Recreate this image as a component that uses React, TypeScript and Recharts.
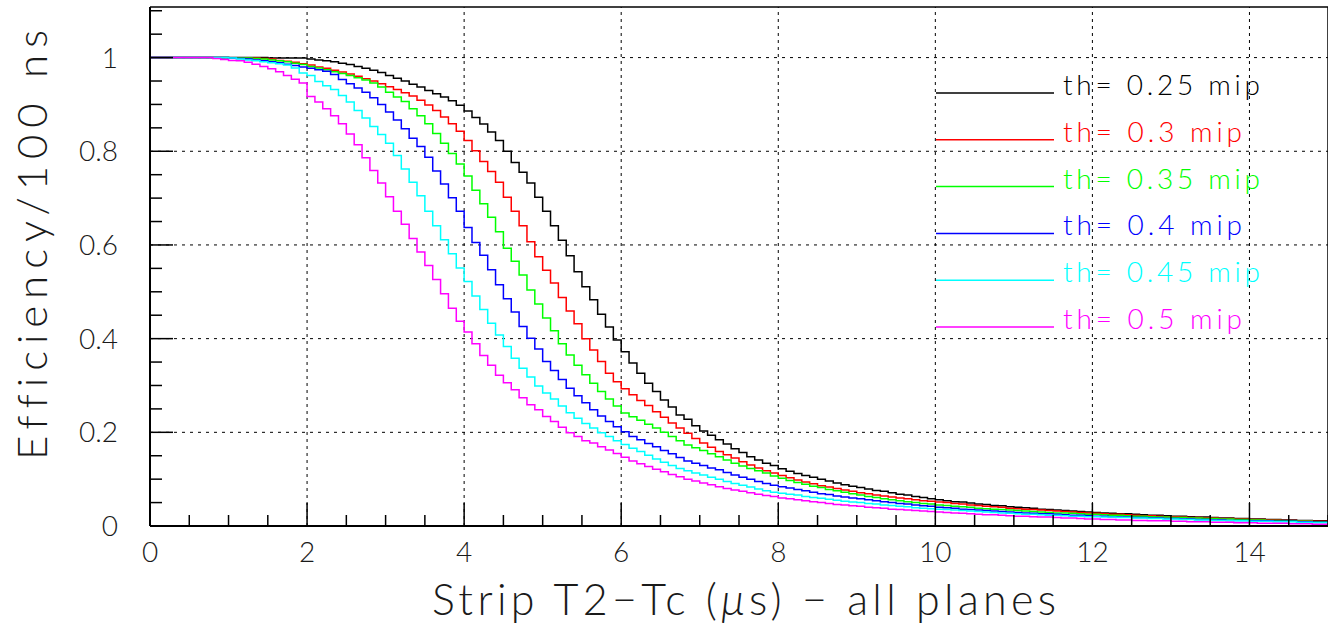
import React from 'react';
import { LineChart, Line, XAxis, YAxis, ReferenceLine, Legend, Label } from 'recharts';

// ---- data (bin contents, 100 ns bins from 0 to 15 us) ----
const TH_025 = [
  1, 1, 1, 1, 1, 1, 1, 1, 1, 1, 1, 1, 1, 1, 1, 0.999, 0.999, 0.999, 0.999, 0.999,
  0.997, 0.995, 0.993, 0.991, 0.988, 0.985, 0.981, 0.977, 0.973, 0.968,
  0.962, 0.956, 0.950, 0.943, 0.937, 0.930, 0.923, 0.916, 0.908, 0.898,
  0.886, 0.872, 0.858, 0.841, 0.823, 0.800, 0.776, 0.755, 0.732, 0.702,
  0.672, 0.641, 0.610, 0.577, 0.543, 0.511, 0.483, 0.452, 0.425, 0.397,
  0.372, 0.348, 0.326, 0.305, 0.287, 0.269, 0.254, 0.237, 0.228, 0.214,
  0.203, 0.194, 0.184, 0.175, 0.165, 0.157, 0.148, 0.141, 0.134, 0.129,
  0.122, 0.117, 0.112, 0.108, 0.104, 0.100, 0.096, 0.092, 0.088, 0.085,
  0.082, 0.079, 0.076, 0.074, 0.071, 0.068, 0.066, 0.063, 0.061, 0.058,
  0.056, 0.054, 0.052, 0.051, 0.049, 0.047, 0.046, 0.044, 0.043, 0.041,
  0.040, 0.039, 0.038, 0.036, 0.035, 0.034, 0.033, 0.032, 0.031, 0.030,
  0.029, 0.028, 0.027, 0.026, 0.026, 0.025, 0.024, 0.023, 0.023, 0.022,
  0.021, 0.021, 0.020, 0.019, 0.019, 0.018, 0.017, 0.017, 0.016, 0.016,
  0.015, 0.015, 0.014, 0.014, 0.013, 0.013, 0.012, 0.012, 0.011, 0.011,
];
const TH_030 = [
  1, 1, 1, 1, 1, 1, 1, 1, 1, 1,
  0.999, 0.999, 0.999, 0.999, 0.998, 0.997, 0.994, 0.992, 0.990, 0.987,
  0.984, 0.980, 0.977, 0.973, 0.969, 0.965, 0.960, 0.955, 0.950, 0.944,
  0.938, 0.932, 0.925, 0.918, 0.909, 0.899, 0.887, 0.873, 0.859, 0.843,
  0.823, 0.801, 0.778, 0.757, 0.734, 0.702, 0.672, 0.641, 0.607, 0.575,
  0.546, 0.519, 0.488, 0.459, 0.432, 0.400, 0.376, 0.351, 0.326, 0.308,
  0.293, 0.280, 0.268, 0.257, 0.244, 0.232, 0.220, 0.209, 0.198, 0.187,
  0.177, 0.168, 0.159, 0.152, 0.145, 0.137, 0.130, 0.124, 0.118, 0.113,
  0.108, 0.103, 0.098, 0.094, 0.090, 0.086, 0.083, 0.080, 0.077, 0.074,
  0.071, 0.069, 0.066, 0.064, 0.062, 0.060, 0.058, 0.056, 0.054, 0.053,
  0.051, 0.050, 0.048, 0.047, 0.045, 0.044, 0.042, 0.041, 0.040, 0.038,
  0.037, 0.036, 0.035, 0.034, 0.033, 0.032, 0.031, 0.030, 0.029, 0.028,
  0.027, 0.026, 0.025, 0.025, 0.024, 0.023, 0.022, 0.022, 0.021, 0.020,
  0.020, 0.019, 0.018, 0.018, 0.017, 0.017, 0.016, 0.016, 0.015, 0.015,
  0.014, 0.014, 0.013, 0.013, 0.012, 0.012, 0.011, 0.011, 0.010, 0.010,
];
const TH_035 = [
  1, 1, 1, 1, 1, 1, 1, 1, 1, 1,
  0.999, 0.999, 0.999, 0.998, 0.997, 0.995, 0.993, 0.991, 0.988, 0.985,
  0.981, 0.978, 0.974, 0.970, 0.966, 0.962, 0.957, 0.952, 0.946, 0.937,
  0.926, 0.916, 0.906, 0.891, 0.876, 0.859, 0.838, 0.817, 0.795, 0.773,
  0.747, 0.717, 0.688, 0.659, 0.628, 0.593, 0.565, 0.536, 0.504, 0.474,
  0.444, 0.417, 0.389, 0.365, 0.343, 0.323, 0.305, 0.287, 0.271, 0.256,
  0.241, 0.233, 0.226, 0.217, 0.209, 0.200, 0.191, 0.182, 0.173, 0.167,
  0.161, 0.154, 0.148, 0.141, 0.134, 0.128, 0.123, 0.118, 0.113, 0.107,
  0.102, 0.097, 0.093, 0.089, 0.085, 0.082, 0.078, 0.075, 0.072, 0.069,
  0.066, 0.063, 0.061, 0.058, 0.056, 0.054, 0.052, 0.050, 0.048, 0.047,
  0.045, 0.044, 0.042, 0.041, 0.040, 0.038, 0.037, 0.036, 0.035, 0.034,
  0.033, 0.032, 0.031, 0.030, 0.029, 0.028, 0.028, 0.027, 0.026, 0.025,
  0.025, 0.024, 0.023, 0.023, 0.022, 0.021, 0.021, 0.020, 0.019, 0.019,
  0.018, 0.018, 0.017, 0.017, 0.016, 0.016, 0.015, 0.015, 0.014, 0.014,
  0.013, 0.013, 0.012, 0.012, 0.011, 0.011, 0.010, 0.010, 0.009, 0.009,
];
const TH_040 = [
  1, 1, 1, 1, 1, 1, 1, 1, 1, 1,
  0.999, 0.998, 0.997, 0.995, 0.993, 0.991, 0.989, 0.986, 0.983, 0.980,
  0.977, 0.974, 0.971, 0.964, 0.953, 0.944, 0.935, 0.926, 0.914, 0.900,
  0.884, 0.867, 0.848, 0.828, 0.810, 0.787, 0.758, 0.730, 0.701, 0.672,
  0.637, 0.605, 0.578, 0.547, 0.515, 0.485, 0.457, 0.426, 0.401, 0.378,
  0.351, 0.332, 0.313, 0.294, 0.278, 0.263, 0.248, 0.235, 0.223, 0.212,
  0.201, 0.191, 0.184, 0.176, 0.169, 0.161, 0.154, 0.146, 0.139, 0.134,
  0.129, 0.124, 0.120, 0.114, 0.109, 0.104, 0.100, 0.095, 0.091, 0.087,
  0.084, 0.081, 0.078, 0.075, 0.072, 0.069, 0.067, 0.064, 0.062, 0.060,
  0.058, 0.056, 0.054, 0.052, 0.050, 0.048, 0.047, 0.045, 0.043, 0.042,
  0.040, 0.039, 0.038, 0.036, 0.035, 0.034, 0.033, 0.032, 0.031, 0.030,
  0.029, 0.028, 0.027, 0.026, 0.026, 0.025, 0.024, 0.023, 0.023, 0.022,
  0.021, 0.021, 0.020, 0.019, 0.019, 0.018, 0.018, 0.017, 0.017, 0.016,
  0.016, 0.015, 0.015, 0.014, 0.014, 0.013, 0.013, 0.012, 0.012, 0.012,
  0.011, 0.011, 0.011, 0.010, 0.010, 0.010, 0.009, 0.009, 0.008, 0.008,
];
const TH_045 = [
  1, 1, 1, 1, 1, 1, 1, 1, 1, 1,
  0.999, 0.997, 0.995, 0.993, 0.991, 0.989, 0.987, 0.984, 0.978, 0.967,
  0.962, 0.949, 0.940, 0.932, 0.919, 0.905, 0.887, 0.871, 0.853, 0.836,
  0.817, 0.791, 0.762, 0.734, 0.705, 0.672, 0.641, 0.611, 0.581, 0.551,
  0.522, 0.491, 0.462, 0.433, 0.408, 0.383, 0.358, 0.337, 0.318, 0.299,
  0.284, 0.271, 0.256, 0.242, 0.230, 0.219, 0.209, 0.199, 0.191, 0.182,
  0.174, 0.166, 0.159, 0.151, 0.143, 0.136, 0.129, 0.123, 0.118, 0.113,
  0.109, 0.104, 0.100, 0.095, 0.091, 0.087, 0.083, 0.079, 0.075, 0.072,
  0.070, 0.068, 0.066, 0.063, 0.061, 0.059, 0.057, 0.055, 0.053, 0.051,
  0.050, 0.048, 0.047, 0.045, 0.044, 0.042, 0.041, 0.039, 0.038, 0.037,
  0.036, 0.035, 0.034, 0.033, 0.032, 0.031, 0.030, 0.029, 0.028, 0.027,
  0.026, 0.025, 0.025, 0.024, 0.023, 0.023, 0.022, 0.021, 0.021, 0.020,
  0.020, 0.019, 0.019, 0.018, 0.018, 0.017, 0.017, 0.016, 0.016, 0.015,
  0.015, 0.014, 0.014, 0.013, 0.013, 0.012, 0.012, 0.012, 0.011, 0.011,
  0.010, 0.010, 0.010, 0.009, 0.009, 0.009, 0.008, 0.008, 0.007, 0.007,
];
const TH_050 = [
  1, 1, 1, 1, 1, 1, 1, 1, 0.998, 0.996,
  0.994, 0.993, 0.990, 0.986, 0.981, 0.976, 0.970, 0.962, 0.954, 0.946,
  0.917, 0.905, 0.891, 0.876, 0.859, 0.837, 0.814, 0.786, 0.759, 0.732,
  0.703, 0.672, 0.644, 0.614, 0.585, 0.556, 0.526, 0.496, 0.465, 0.437,
  0.414, 0.389, 0.364, 0.343, 0.322, 0.306, 0.291, 0.274, 0.259, 0.248,
  0.234, 0.223, 0.211, 0.199, 0.191, 0.182, 0.177, 0.169, 0.162, 0.155,
  0.147, 0.139, 0.133, 0.127, 0.121, 0.116, 0.110, 0.105, 0.100, 0.096,
  0.092, 0.088, 0.084, 0.080, 0.077, 0.074, 0.071, 0.068, 0.065, 0.063,
  0.060, 0.058, 0.056, 0.054, 0.052, 0.050, 0.048, 0.046, 0.045, 0.043,
  0.042, 0.040, 0.039, 0.038, 0.036, 0.035, 0.034, 0.033, 0.032, 0.031,
  0.030, 0.029, 0.028, 0.027, 0.026, 0.025, 0.024, 0.024, 0.023, 0.022,
  0.021, 0.021, 0.020, 0.019, 0.019, 0.018, 0.017, 0.017, 0.016, 0.015,
  0.015, 0.014, 0.014, 0.013, 0.013, 0.012, 0.012, 0.011, 0.011, 0.011,
  0.010, 0.010, 0.009, 0.009, 0.009, 0.008, 0.008, 0.008, 0.007, 0.007,
  0.007, 0.006, 0.006, 0.006, 0.006, 0.005, 0.005, 0.005, 0.004, 0.004,
];

const SERIES_KEYS = ['t025', 't030', 't035', 't040', 't045', 't050'];
const SERIES_NAMES = ['th= 0.25 mip', 'th= 0.3 mip', 'th= 0.35 mip', 'th= 0.4 mip', 'th= 0.45 mip', 'th= 0.5 mip'];
const SERIES_COLORS = ['#000000', '#ff0000', '#00ff00', '#0000ff', '#00ffff', '#ff00ff'];
const SERIES_VALUES = [TH_025, TH_030, TH_035, TH_040, TH_045, TH_050];

const BIN_WIDTH = 0.1;
const X_MAX = 15;
const Y_MAX = 1.108;
const X_TICKS = [0, 0.5, 1, 1.5, 2, 2.5, 3, 3.5, 4, 4.5, 5, 5.5, 6, 6.5, 7, 7.5, 8, 8.5, 9, 9.5, 10, 10.5, 11, 11.5, 12, 12.5, 13, 13.5, 14, 14.5, 15];
const Y_TICKS = [0, 0.05, 0.1, 0.15, 0.2, 0.25, 0.3, 0.35, 0.4, 0.45, 0.5, 0.55, 0.6, 0.65, 0.7, 0.75, 0.8, 0.85, 0.9, 0.95, 1, 1.05, 1.1];
const X_LABELS = [0, 2, 4, 6, 8, 10, 12, 14];
const Y_LABELS = [0, 0.2, 0.4, 0.6, 0.8, 1];
const GRID_X = [2, 4, 6, 8, 10, 12, 14];
const GRID_Y = [0.2, 0.4, 0.6, 0.8, 1];

const X_TITLE = 'Strip T2\u2212Tc (';
const X_TITLE_MU = '\u03bc';
const X_TITLE_END = 's) \u2212 all planes';
const Y_TITLE = 'Efficiency/100 ns';

// table for the library: one row per bin low edge, plus the closing edge
const rows = (() => {
  const out: any[] = [];
  const n = TH_025.length;
  for (let i = 0; i <= n; i++) {
    const j = Math.min(i, n - 1);
    const r: any = { x: Math.round(i * BIN_WIDTH * 10) / 10 };
    SERIES_KEYS.forEach((k, s) => { r[k] = SERIES_VALUES[s][j]; });
    out.push(r);
  }
  return out;
})();

const FONT = "Lato, 'Liberation Sans', sans-serif";
const TXT = '#1a1a1a';
const NOLIG = { fontVariantLigatures: 'none', fontFeatureSettings: '"liga" 0, "clig" 0' } as any;

const isIn = (v: number, list: number[]) => list.some((l) => Math.abs(l - v) < 1e-6);

const XTick = (props: any) => {
  const { x, y, payload } = props;
  const v = payload.value;
  const major = isIn(v, X_LABELS);
  const len = major ? 23 : 11;
  return (
    <g>
      <line x1={x} y1={y} x2={x} y2={y - len} stroke="#000" strokeWidth={1.5} />
      {major && (
        <text x={x} y={y + 36} textAnchor="middle" fontFamily={FONT} fontWeight={300} fontSize={28} fill={TXT}>
          {String(v)}
        </text>
      )}
    </g>
  );
};

const YTick = (props: any) => {
  const { x, y, payload } = props;
  const v = payload.value;
  const major = isIn(v, Y_LABELS);
  const len = major ? 23 : 12;
  const label = v === 0 ? '0' : v === 1 ? '1' : v.toFixed(1);
  return (
    <g>
      <line x1={x} y1={y} x2={x + len} y2={y} stroke="#000" strokeWidth={1.5} />
      {major && (
        <text x={x - 32} y={y + 10} textAnchor="end" fontFamily={FONT} fontWeight={300} fontSize={28} fill={TXT}>
          {label}
        </text>
      )}
    </g>
  );
};

const XTitle = () => (
  <text x={744} y={615} textAnchor="middle" fontFamily={FONT} fontWeight={300} fontSize={43} fill={TXT}
    textLength={624} lengthAdjust="spacing" style={NOLIG}>
    {X_TITLE}
    <tspan fontStyle="italic">{X_TITLE_MU}</tspan>
    {X_TITLE_END}
  </text>
);

const YTitle = () => (
  <text x={0} y={0} transform="translate(47,245) rotate(-90)" textAnchor="middle" fontFamily={FONT} fontWeight={300}
    fontSize={42} fill={TXT} textLength={430} lengthAdjust="spacing" style={NOLIG}>
    {Y_TITLE}
  </text>
);

const LegendBox = () => (
  <svg width={1328} height={625} style={{ position: 'absolute', left: 0, top: 0, pointerEvents: 'none' }}>
    {SERIES_NAMES.map((name, i) => {
      const ly = 93 + i * 46.8;
      return (
        <g key={name}>
          <line x1={936} y1={ly} x2={1054} y2={ly} stroke={SERIES_COLORS[i]} strokeWidth={1.5} />
          <text x={1063} y={ly + 2} fontFamily={FONT} fontWeight={300} fontSize={28} fill={SERIES_COLORS[i]}
            textLength={name.length === 12 ? 197 : 179} lengthAdjust="spacing" style={NOLIG}>
            {name}
          </text>
        </g>
      );
    })}
  </svg>
);

export default function App() {
  return (
    <div style={{ width: 1328, height: 625, position: 'relative', background: '#fff' }}>
      <style>{'body{margin:0;background:#fff;}'}</style>
      <LineChart width={1328} height={625} data={rows} margin={{ top: 7, right: 0, bottom: 0, left: 0 }}>
        {GRID_X.map((v) => (
          <ReferenceLine key={'gx' + v} x={v} stroke="#000" strokeWidth={1} strokeDasharray="3 4" />
        ))}
        {GRID_Y.map((v) => (
          <ReferenceLine key={'gy' + v} y={v} stroke="#000" strokeWidth={1} strokeDasharray="3 5" />
        ))}
        <ReferenceLine y={Y_MAX} stroke="#000" strokeWidth={1.5} />
        <ReferenceLine x={X_MAX} stroke="#000" strokeWidth={1.5} />
        <XAxis
          type="number"
          dataKey="x"
          domain={[0, X_MAX]}
          ticks={X_TICKS}
          interval={0}
          tickSize={0}
          tickMargin={0}
          tickLine={false}
          tick={<XTick />}
          height={99}
          axisLine={{ stroke: '#000', strokeWidth: 2 }}
          allowDataOverflow
        >
          <Label content={<XTitle />} />
        </XAxis>
        <YAxis
          type="number"
          domain={[0, Y_MAX]}
          ticks={Y_TICKS}
          interval={0}
          tickSize={0}
          tickMargin={0}
          tickLine={false}
          tick={<YTick />}
          width={150}
          axisLine={{ stroke: '#000', strokeWidth: 2 }}
          allowDataOverflow
        >
          <Label content={<YTitle />} />
        </YAxis>
        {SERIES_KEYS.map((k, i) => (
          <Line
            key={k}
            type="stepAfter"
            dataKey={k}
            name={SERIES_NAMES[i]}
            stroke={SERIES_COLORS[i]}
            strokeWidth={1.5}
            dot={false}
            activeDot={false}
            isAnimationActive={false}
          />
        ))}
        <Legend
          layout="vertical"
          align="center"
          verticalAlign="middle"
          content={() => <LegendBox />}
          wrapperStyle={{ position: 'absolute', left: 0, top: 0, width: 1328, height: 625, pointerEvents: 'none' }}
        />
      </LineChart>
    </div>
  );
}
